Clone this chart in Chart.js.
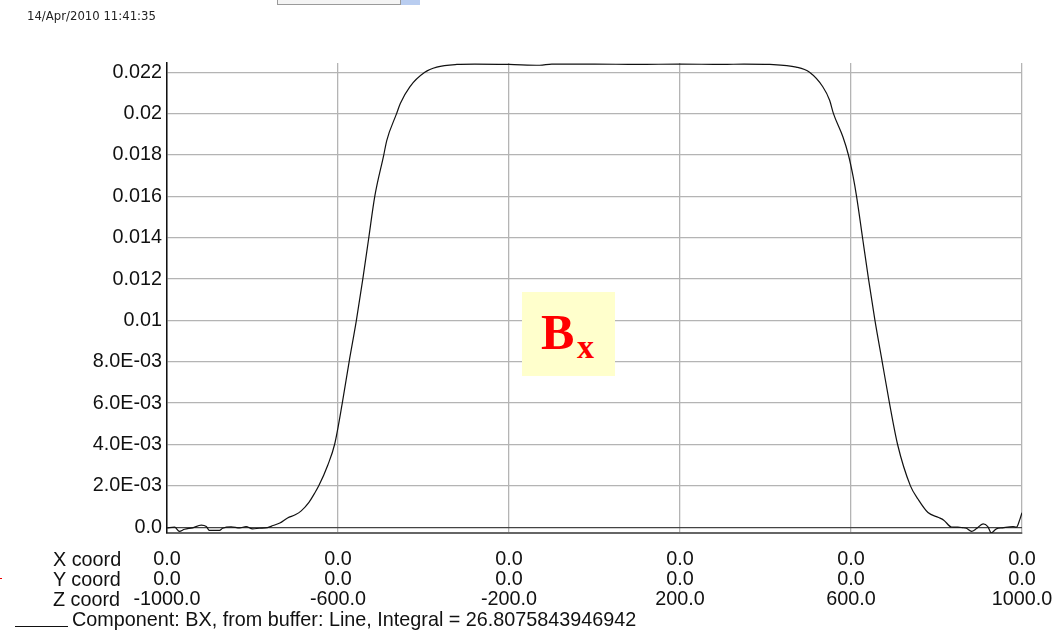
<!DOCTYPE html>
<html>
<head>
<meta charset="utf-8">
<script src="https://cdn.jsdelivr.net/npm/chart.js@4/dist/chart.umd.min.js"></script>
<style>
  body { margin: 0; background: #fff; }
  #wrap { position: relative; width: 1057px; height: 630px; }
  #stamp { position: absolute; left: 27px; top: 9px; font: 11.7px "DejaVu Sans", sans-serif; color: #222; }
  #widget { position: absolute; left: 277px; top: -6px; width: 122px; height: 9px; border: 1px solid #9a9a9a; background: #f4f4f4; }
  #widgetBtn { position: absolute; left: 401px; top: -6px; width: 19px; height: 11px; background: #b9cdf0; }
  #bx { position: absolute; left: 522px; top: 292px; width: 93px; height: 84px; background: #ffffcc;
        font: bold 50px "Liberation Serif", serif; color: #ff0000; }
  #bx .b { position: absolute; left: 19px; top: 11px; }
  #bx .x { position: absolute; left: 55px; top: 36px; font-size: 34px; }
  #legLine { position: absolute; left: 15px; top: 626px; width: 53px; border-top: 1.5px solid #111; }
  #legText { position: absolute; left: 72px; top: 609px; font: 19.8px/20px "Liberation Sans", Arial, sans-serif; color: #111; }
  .rowhead { position: absolute; left: 53px; font: 19.8px/20px "Liberation Sans", Arial, sans-serif; color: #111; }
  #redmark { position: absolute; left: 0; top: 578px; width: 2px; height: 1px; background: #e00; }
</style>
</head>
<body>
<div id="wrap">
  <canvas id="bxChart"></canvas>
  <div id="stamp">14/Apr/2010 11:41:35</div>
  <div id="widget"></div><div id="widgetBtn"></div>
  <div id="bx"><span class="b">B</span><span class="x">x</span></div>
  <div class="rowhead" style="top:549px">X coord</div>
  <div class="rowhead" style="top:569px">Y coord</div>
  <div class="rowhead" style="top:589px">Z coord</div>
  <div id="redmark"></div>
  <div id="legLine"></div>
  <div id="legText">Component: BX, from buffer: Line, Integral = 26.8075843946942</div>
</div>
<script>
// measured field along z (mm) and Bx
const zValues = [
  -1000, -982, -971, -959, -940, -920, -908, -901, -877, -870, -850, -830, -815, -800, -784, -765,
  -752, -736, -718, -700, -686, -668, -656, -645, -624, -608, -590, -574, -557, -542, -528, -514,
  -493, -486, -463, -454, -432, -397, -369, -322, -280, -200, -128, -100, 0, 100, 200, 300, 350,
  410, 472, 503, 534, 550, 559, 581, 594, 605, 613, 627, 641, 656, 673, 690, 709, 739, 757, 780,
  805, 817, 835, 850, 860, 870, 882, 893, 909, 920, 928, 940, 955, 979, 987, 995, 1000
];
const bxValues = [
  -0.00003, 0, -0.0002, -0.0001, -0.00003, 0.0001, 0.00003, -0.00015, -0.00015, -0.00005, 0.00002,
  -0.00003, 0.00003, -0.00008, -0.00005, -0.00002,
  0.00008, 0.0002, 0.00045, 0.0006, 0.00079, 0.0012, 0.0016, 0.002, 0.003, 0.004, 0.006, 0.008,
  0.010, 0.012, 0.014, 0.016,
  0.018, 0.0187, 0.020, 0.0205, 0.0213, 0.022, 0.02225, 0.02238, 0.0224, 0.02238, 0.02234, 0.0224,
  0.0224, 0.02238, 0.0224, 0.02238, 0.0224,
  0.02238, 0.02225, 0.022, 0.0213, 0.02065, 0.020, 0.01888, 0.018, 0.01695, 0.016, 0.014, 0.012,
  0.010, 0.008, 0.006, 0.004, 0.002, 0.00135, 0.00071,
  0.00047, 0.00034, 0.00001, 0, -0.00002, -0.00005, -0.0002, -0.00008, 0.00016, 0.00003, -0.00027,
  -0.00008, -0.00003, 0.00003, 0, 0.00038, 0.0007
];
const yTicks = [0, 0.002, 0.004, 0.006, 0.008, 0.01, 0.012, 0.014, 0.016, 0.018, 0.02, 0.022];
const zTicks = [-1000, -600, -200, 200, 600, 1000];
const xCoordRow = ["0.0", "0.0", "0.0", "0.0", "0.0", "0.0"];
const yCoordRow = ["0.0", "0.0", "0.0", "0.0", "0.0", "0.0"];

const labelFont = { family: "'Liberation Sans', Arial, sans-serif", size: 19.8, lineHeight: 20 / 19.8 };

function fmtY(v) {
  if (Math.abs(v) < 1e-12) return "0.0";
  if (v < 0.0099) return v.toExponential(1).replace("e-", "E-0").toUpperCase();
  return String(+v.toFixed(3));
}

const ctx = document.getElementById("bxChart").getContext("2d");
new Chart(ctx, {
  type: "scatter",
  data: {
    datasets: [
      {
        data: zValues.map((z, i) => ({ x: z, y: bxValues[i] })),
        showLine: true,
        borderColor: "#111",
        borderWidth: 1.2,
        pointRadius: 0,
        cubicInterpolationMode: "monotone",
      },
    ],
  },
  options: {
    responsive: true,
    maintainAspectRatio: false,
    animation: false,
    layout: { padding: { top: 63, right: 35, left: 0, bottom: 0 } },
    plugins: { legend: { display: false }, tooltip: { enabled: false } },
    scales: {
      x: {
        type: "linear",
        min: -1000,
        max: 1000,
        afterBuildTicks: (axis) => { axis.ticks = zTicks.map((v) => ({ value: v })); },
        afterFit: (axis) => {
          axis.height = 97;
          axis.paddingLeft = 0;
          axis.paddingRight = 0;
        },
        ticks: {
          maxRotation: 0,
          autoSkip: false,
          padding: 17,
          color: "#111",
          font: labelFont,
          callback: (v) => {
            const i = zTicks.indexOf(v);
            return [xCoordRow[i], yCoordRow[i], v.toFixed(1)];
          },
        },
        grid: { color: "#b4b4b4", lineWidth: 1.3, drawTicks: false },
        border: { color: "#666", width: 2 },
      },
      y: {
        min: -0.00028,
        max: 0.02245,
        afterBuildTicks: (axis) => { axis.ticks = yTicks.map((v) => ({ value: v })); },
        afterFit: (axis) => { axis.width = 167; },
        ticks: { padding: 5, color: "#111", font: labelFont, callback: fmtY },
        grid: {
          color: (c) => (c.tick && c.tick.value === 0 ? "#444" : "#b4b4b4"),
          lineWidth: 1.3,
          drawTicks: false,
        },
        border: { color: "#111", width: 1.5 },
      },
    },
  },
});
</script>
</body>
</html>
